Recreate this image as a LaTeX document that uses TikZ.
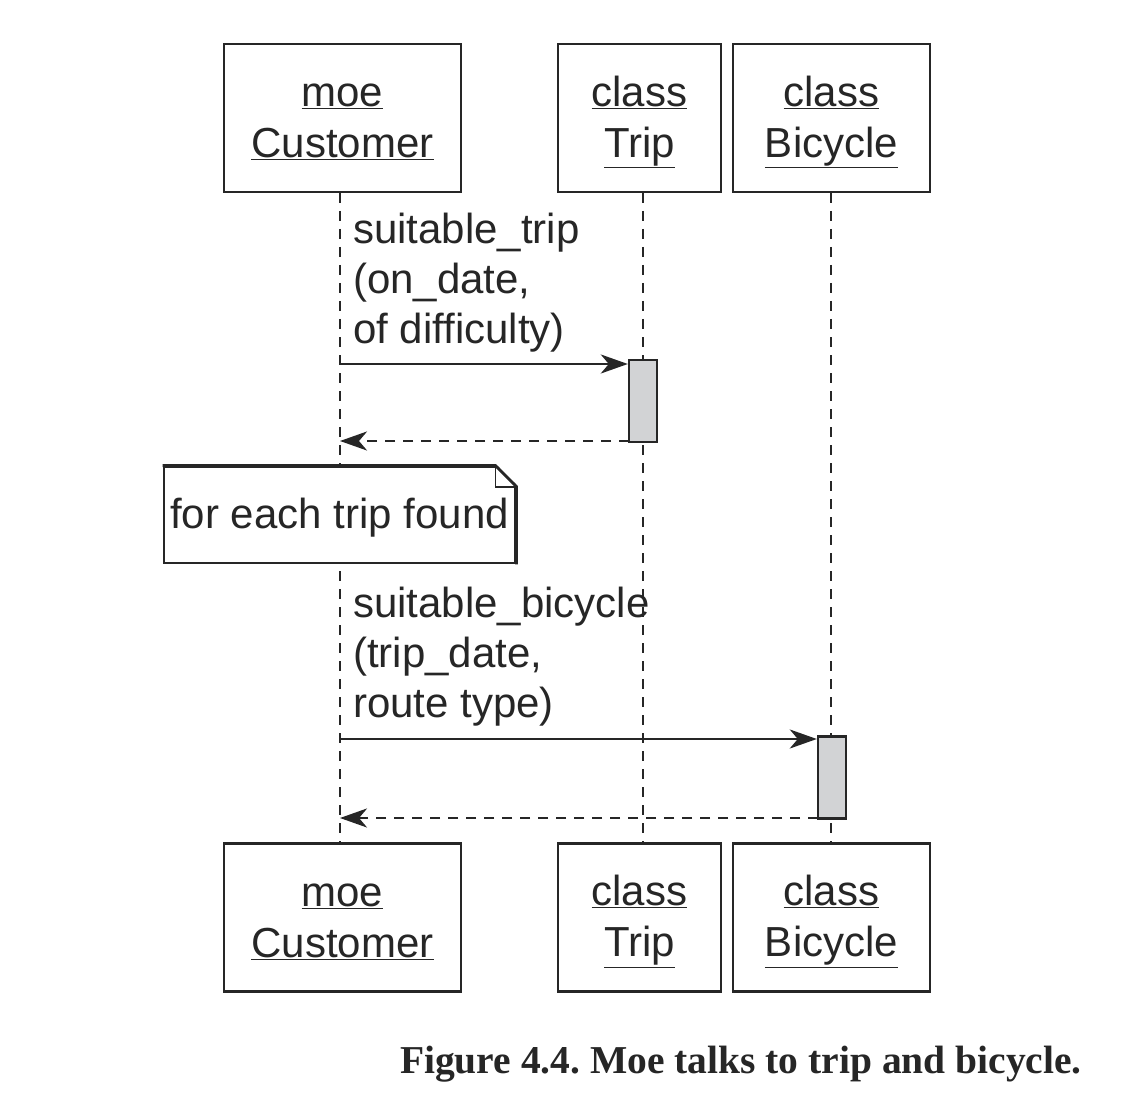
\documentclass[tikz,border=0pt]{standalone}
\usepackage{fontspec}
\setmainfont{Liberation Sans}
\newfontfamily\capfont{Liberation Serif}
\usetikzlibrary{arrows.meta,calc}
\definecolor{ink}{HTML}{262626}
\definecolor{actfill}{HTML}{D2D3D5}
\tikzset{
  objbox/.style={draw=ink, line width=2.8pt, fill=white, minimum height=148pt, inner sep=0pt},
  objlabel/.style={label={[align=center, inner sep=0pt, font=\fontsize{42}{50}\selectfont, text=ink, yshift=-4pt]center:#1}},
  lifeline/.style={draw=ink, line width=2.4pt, dash pattern=on 10pt off 8pt},
  actbox/.style={draw=ink, line width=2.4pt, fill=actfill, minimum width=28pt, minimum height=82pt, inner sep=0pt},
  call/.style={draw=ink, line width=2.6pt, -{Stealth[length=27pt,width=19pt,inset=8pt]}},
  reply/.style={draw=ink, line width=2.6pt, dash pattern=on 10pt off 8pt, -{Stealth[length=27pt,width=19pt,inset=8pt]}},
  msg/.style={anchor=north west, align=left, inner sep=0pt, font=\fontsize{42}{50}\selectfont, text=ink},
  notetext/.style={inner sep=0pt, font=\fontsize{42}{50}\selectfont, text=ink}
}
\newcommand{\ul}[1]{\underline{#1}}
\begin{document}
\frenchspacing
\begin{tikzpicture}[x=1pt,y=-1pt]
\fill[white] (0,0) rectangle (1136,1118);
\useasboundingbox (0,0) rectangle (1136,1118);

% top objects
\node[objbox, minimum width=237pt, objlabel={\ul{moe}\\[1pt]\ul{Customer}}] (cust) at (342.5,118) {};
\node[objbox, minimum width=163pt, objlabel={\ul{class}\\[1pt]\ul{Trip}}] (trip) at (639.5,118) {};
\node[objbox, minimum width=197pt, objlabel={\ul{class}\\[1pt]\ul{Bicycle}}] (bike) at (831.5,118) {};
% bottom objects
\node[objbox, minimum width=237pt, objlabel={\ul{moe}\\[1pt]\ul{Customer}}] (cust2) at (342.5,917.5) {};
\node[objbox, minimum width=163pt, objlabel={\ul{class}\\[1pt]\ul{Trip}}] (trip2) at (639.5,917.5) {};
\node[objbox, minimum width=197pt, objlabel={\ul{class}\\[1pt]\ul{Bicycle}}] (bike2) at (831.5,917.5) {};

% lifeline anchors
\coordinate (lc) at (340,193);
\coordinate (lc2) at (340,842);
\coordinate (lt) at (643,193);
\coordinate (lt2) at (643,842);
\coordinate (lb) at (831,193);
\coordinate (lb2) at (831,842);

\draw[lifeline] (lc) -- (lc2);
\draw[lifeline] (lt) -- (lt2);
\draw[lifeline] (lb) -- (lb2);

% activations
\node[actbox] (act1) at (643,401) {};
\node[actbox] (act2) at (832,777.5) {};

% first message
\node[msg] (m1) at (353,213) {suitable\_trip\\(on\_date,\\of difficulty)};
\coordinate (s1) at (340,364);
\draw[call] (s1) -- (s1 -| act1.west);
\coordinate (r1) at (629,441);
\draw[reply] (r1) -- (r1 -| lc);

% note
\node[draw=ink, line width=2.8pt, fill=white, minimum width=351pt, minimum height=96pt, inner sep=0pt] (note) at (339.5,515) {};
\node[notetext] (nt) at ($(note.center)+(0,3)$) {for each trip found};
\fill[white] ($(note.north east)+(-21,-2)$) -- ($(note.north east)+(2,-2)$) -- ($(note.north east)+(2,21)$) -- cycle;
\draw[ink, line width=2.8pt, line join=miter] ($(note.north west)$) -- ($(note.north east)+(-21,0)$) -- ($(note.north east)+(0,21)$) -- (note.south east);
\draw[ink, line width=1.8pt] ($(note.north east)+(-21,0)$) -- ($(note.north east)+(-21,21)$) -- ($(note.north east)+(0,21)$);

% second message
\node[msg] (m2) at (353,587) {suitable\_bicycle\\(trip\_date,\\route type)};
\coordinate (s2) at (340,739);
\draw[call] (s2) -- (s2 -| act2.west);
\coordinate (r2) at (818,818);
\draw[reply] (r2) -- (r2 -| lc);

% caption
\node[anchor=base east, inner sep=0pt, text=ink, font=\capfont\bfseries\fontsize{39.5}{42}\selectfont] (cap) at (1082,1073) {Figure 4.4. Moe talks to trip and bicycle.};
\end{tikzpicture}
\end{document}
